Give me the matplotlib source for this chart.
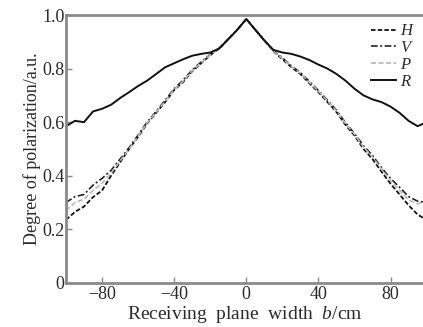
import numpy as np
import matplotlib
matplotlib.use('Agg')
import matplotlib.pyplot as plt

plt.rcParams['font.family'] = ['Liberation Serif', 'DejaVu Serif']
plt.rcParams['mathtext.fontset'] = 'custom'
plt.rcParams['mathtext.rm'] = 'Liberation Serif'
plt.rcParams['mathtext.it'] = 'Liberation Serif:italic'

# receiving plane width b (cm)
b = [-100, -95, -90, -85, -80, -75, -70, -65, -60, -55, -50, -45, -40, -35, -30,
     -25, -20, -15, -10, -5, 0, 5, 10, 15, 20, 25, 30, 35, 40, 45, 50, 55, 60,
     65, 70, 75, 80, 85, 90, 95, 100]

dop_H = [0.235, 0.265, 0.285, 0.320, 0.345, 0.400, 0.450, 0.500, 0.545, 0.595,
         0.635, 0.675, 0.720, 0.750, 0.790, 0.820, 0.850, 0.875, 0.910, 0.945,
         0.985, 0.945, 0.905, 0.865, 0.835, 0.805, 0.780, 0.745, 0.712, 0.675,
         0.638, 0.590, 0.550, 0.500, 0.462, 0.415, 0.370, 0.330, 0.290, 0.255, 0.235]
dop_V = [0.300, 0.322, 0.330, 0.365, 0.390, 0.420, 0.462, 0.505, 0.552, 0.600,
         0.640, 0.682, 0.725, 0.757, 0.795, 0.825, 0.853, 0.877, 0.910, 0.945,
         0.985, 0.945, 0.907, 0.868, 0.840, 0.810, 0.785, 0.752, 0.718, 0.682,
         0.645, 0.598, 0.558, 0.512, 0.476, 0.430, 0.390, 0.357, 0.322, 0.305, 0.300]
dop_P = [0.270, 0.300, 0.312, 0.345, 0.372, 0.410, 0.455, 0.500, 0.548, 0.597,
         0.637, 0.678, 0.722, 0.753, 0.792, 0.822, 0.851, 0.876, 0.910, 0.945,
         0.985, 0.945, 0.906, 0.866, 0.838, 0.808, 0.783, 0.749, 0.716, 0.679,
         0.642, 0.595, 0.555, 0.507, 0.470, 0.425, 0.382, 0.345, 0.310, 0.295, 0.310]
dop_R = [0.585, 0.605, 0.600, 0.640, 0.650, 0.665, 0.690, 0.712, 0.735, 0.755,
         0.780, 0.805, 0.820, 0.835, 0.848, 0.855, 0.860, 0.875, 0.910, 0.945,
         0.985, 0.945, 0.905, 0.870, 0.860, 0.855, 0.845, 0.832, 0.815, 0.800,
         0.780, 0.755, 0.725, 0.700, 0.685, 0.675, 0.658, 0.635, 0.605, 0.585, 0.600]

x_ticks = [-80, -40, 0, 40, 80]
x_ticklabels = ['\u221280', '\u221240', '0', '40', '80']
y_ticks = [0, 0.2, 0.4, 0.6, 0.8, 1.0]
y_ticklabels = ['0', '0.2', '0.4', '0.6', '0.8', '1.0']

txt = '#2a2a2a'
spine = '#8a8a8a'

f = plt.figure(figsize=(4.23, 3.27), dpi=100)
ax = f.add_axes([0.156, 0.135, 0.844, 0.819])

ax.plot(b, dop_H, color='#111111', lw=1.3, ls=(0, (2.5, 1.2)), label='$H$')
ax.plot(b, dop_V, color='#222222', lw=1.2, ls=(0, (4, 1.5, 1.2, 1.5)), label='$V$')
ax.plot(b, dop_P, color='#b8b8b8', lw=1.2, ls=(0, (3, 1.5)), label='$P$')
ax.plot(b, dop_R, color='#111111', lw=1.4, label='$R$')

ax.set_xlim(-100, 98)
ax.set_ylim(0, 1.0)
ax.set_xticks(x_ticks)
ax.set_xticklabels(x_ticklabels)
ax.set_yticks(y_ticks)
ax.set_yticklabels(y_ticklabels)
ax.tick_params(direction='in', length=4, width=1, color=spine, labelcolor=txt,
               labelsize=13, pad=2)
ax.tick_params(axis='y', pad=1)

for s in ['left', 'bottom', 'top']:
    ax.spines[s].set_color(spine)
    ax.spines[s].set_linewidth(2)
ax.spines['right'].set_visible(False)

ax.set_xlabel('Receiving  plane  width  $b$/cm', fontsize=14, color=txt, labelpad=1)
ax.set_ylabel('Degree of polarization/a.u.', fontsize=13, color=txt, labelpad=1)

leg = ax.legend(loc='upper right', frameon=False, fontsize=12, handlelength=1.5,
                handletextpad=0.2, labelspacing=0.05, borderaxespad=0.1)
for t in leg.get_texts():
    t.set_color(txt)

f.savefig('out.png', dpi=100)
